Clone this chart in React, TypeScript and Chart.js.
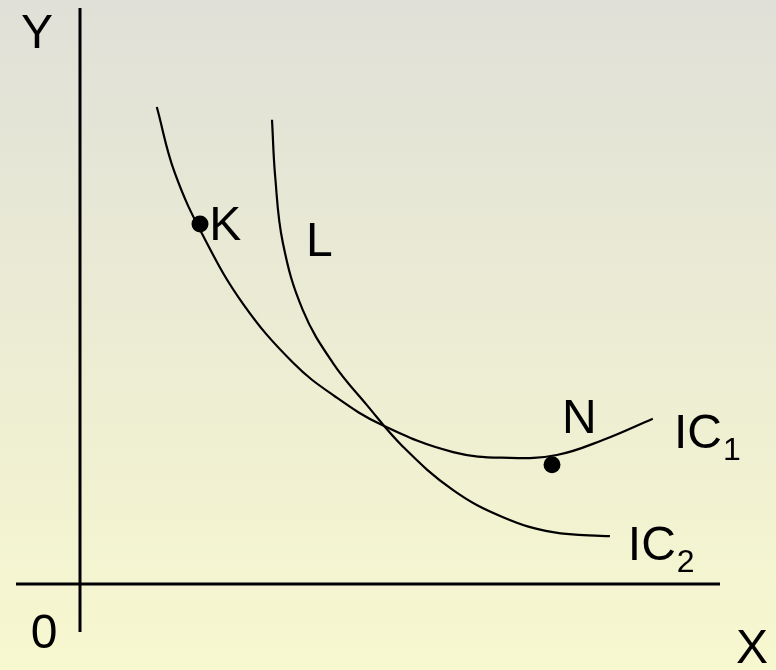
import React, { useEffect, useRef } from "react";
import { Chart, registerables } from "chart.js";

Chart.register(...registerables);

// Units: x = goods X, y = goods Y (arbitrary diagram units)
const ic1X = [1.20, 1.48, 1.94, 2.55, 3.33, 3.98, 4.72, 5.83, 6.72, 7.45, 8.17, 8.95];
const ic1Y = [8.28, 7.14, 6.01, 4.86, 3.84, 3.26, 2.76, 2.29, 2.19, 2.24, 2.50, 2.87];

const ic2X = [3.0, 3.05, 3.17, 3.48, 3.95, 4.48, 5.05, 5.83, 6.61, 7.39, 8.28];
const ic2Y = [8.06, 7.07, 5.92, 4.76, 3.84, 3.11, 2.38, 1.63, 1.16, 0.90, 0.83];

const pointNames = ["K", "N"];
const pointX = [1.875, 7.375];
const pointY = [6.25, 2.07];

const axisXRange = [-1.0, 10.0];
const axisYRange = [-0.833, 10.0];

const labelTexts = ["Y", "K", "L", "N", "IC", "IC", "0", "X"];
const labelSubs = ["", "", "", "", "1", "2", "", ""];
const labelX = [-0.92, 2.02, 3.53, 7.53, 9.28, 8.56, -0.77, 10.25];
const labelY = [9.31, 5.97, 5.69, 2.62, 2.36, 0.42, -1.11, -1.37];

const toPts = (xs: number[], ys: number[]) => xs.map((x, i) => ({ x, y: ys[i] }));

export default function App() {
  const ref = useRef<HTMLCanvasElement | null>(null);

  useEffect(() => {
    document.body.style.margin = "0";
    const canvas = ref.current;
    if (!canvas) return;

    const bgPlugin = {
      id: "bg",
      beforeDraw(chart: any) {
        const { ctx, width, height } = chart;
        const g = ctx.createLinearGradient(0, 0, 0, height);
        g.addColorStop(0, "#e0e0d8");
        g.addColorStop(1, "#f7f8cf");
        ctx.save();
        ctx.fillStyle = g;
        ctx.fillRect(0, 0, width, height);
        ctx.restore();
      },
    };

    const labelPlugin = {
      id: "labels",
      afterDatasetsDraw(chart: any) {
        const { ctx } = chart;
        const xs = chart.scales.x;
        const ys = chart.scales.y;
        ctx.save();
        ctx.fillStyle = "#000";
        ctx.textAlign = "left";
        ctx.textBaseline = "alphabetic";
        labelTexts.forEach((t, i) => {
          const px = xs.getPixelForValue(labelX[i]);
          const py = ys.getPixelForValue(labelY[i]);
          ctx.font = '48px "Liberation Sans", Arial, sans-serif';
          ctx.fillText(t, px, py);
          if (labelSubs[i]) {
            const w = ctx.measureText(t).width;
            ctx.font = '32px "Liberation Sans", Arial, sans-serif';
            ctx.fillText(labelSubs[i], px + w + 1, py + 12);
          }
        });
        ctx.restore();
      },
    };

    const curve = {
      showLine: true,
      borderColor: "#000",
      borderWidth: 2.2,
      pointRadius: 0,
      tension: 0.4,
    };

    const chart = new Chart(canvas, {
      type: "scatter",
      data: {
        datasets: [
          {
            data: [
              { x: axisXRange[0], y: 0 },
              { x: axisXRange[1], y: 0 },
            ],
            showLine: true,
            borderColor: "#000",
            borderWidth: 3,
            pointRadius: 0,
          },
          {
            data: [
              { x: 0, y: axisYRange[0] },
              { x: 0, y: axisYRange[1] },
            ],
            showLine: true,
            borderColor: "#000",
            borderWidth: 3,
            pointRadius: 0,
          },
          { ...curve, data: toPts(ic1X, ic1Y) },
          { ...curve, data: toPts(ic2X, ic2Y) },
          {
            label: pointNames.join(","),
            data: toPts(pointX, pointY),
            showLine: false,
            backgroundColor: "#000",
            borderColor: "#000",
            pointRadius: 8.5,
            borderWidth: 0,
          },
        ],
      },
      options: {
        responsive: false,
        animation: false,
        layout: { padding: 0, autoPadding: false },
        plugins: {
          legend: { display: false },
          tooltip: { enabled: false },
          title: { display: false },
        },
        events: [],
        scales: {
          x: { type: "linear", min: -1.25, max: 10.875, display: false },
          y: { type: "linear", min: -86 / 57.6, max: 584 / 57.6, display: false },
        },
      },
      plugins: [bgPlugin, labelPlugin],
    });

    return () => chart.destroy();
  }, []);

  return (
    <div style={{ position: "absolute", left: 0, top: 0, width: 776, height: 670 }}>
      <canvas ref={ref} width={776} height={670} />
    </div>
  );
}
